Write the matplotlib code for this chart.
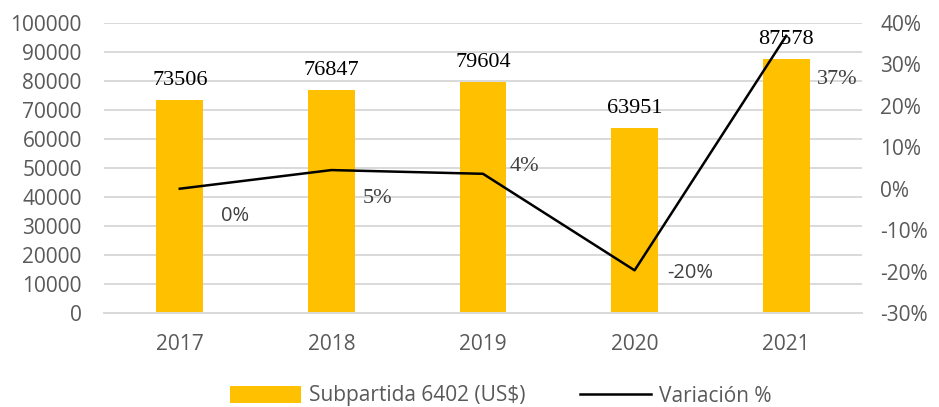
import matplotlib
matplotlib.use("Agg")
import matplotlib.pyplot as plt
from matplotlib.ticker import FuncFormatter

years = ["2017", "2018", "2019", "2020", "2021"]
imports_usd = [73506, 76847, 79604, 63951, 87578]
variation_pct = [0.0, 4.5, 3.6, -19.7, 36.9]
variation_labels = ["0%", "5%", "4%", "-20%", "37%"]

GOLD = "#FFC000"
GRAY = "#595959"
SANS = ["Open Sans", "DejaVu Sans"]
SERIF = ["Liberation Serif", "DejaVu Serif"]

plt.rcParams["font.family"] = SANS

fig = plt.figure(figsize=(9.39, 4.07), dpi=100)
ax = fig.add_axes([104 / 939, 1 - 313 / 407, 758 / 939, 290 / 407])
ax2 = ax.twinx()

x = list(range(len(years)))
bars = ax.bar(x, imports_usd, width=0.31, color=GOLD, zorder=2, label="Subpartida 6402 (US$)")
ax.set_xlim(-0.5, len(years) - 0.5)
ax.set_ylim(0, 100000)
ax.set_yticks(range(0, 100001, 10000))
ax.set_xticks(x)
ax.set_xticklabels(years)
ax.grid(axis="y", color="#D9D9D9", linewidth=1.4, zorder=0)
ax.set_axisbelow(True)

for b, v in zip(bars, imports_usd):
    ax.annotate(str(v), (b.get_x() + b.get_width() / 2, v), xytext=(0, 7),
                textcoords="offset points", ha="center", va="bottom",
                fontsize=16, family=SERIF, color="black")

line, = ax2.plot(x, variation_pct, color="black", linewidth=1.8, zorder=3, label="Variación %")
ax2.set_ylim(-30, 40)
ax2.set_yticks(range(-30, 41, 10))
ax2.yaxis.set_major_formatter(FuncFormatter(lambda v, p: f"{int(v)}%"))

# label offsets in pixels (dx, dy down) and font per label
offsets = [(55, 27), (46, 28), (41, -7), (56, 3), (51, 44)]
fonts = [SANS, SERIF, SERIF, SANS, SERIF]
sizes = [14.5, 16, 16, 14.5, 16]
for xi, v, lab, (dx, dy), fam, fs in zip(x, variation_pct, variation_labels, offsets, fonts, sizes):
    ax2.annotate(lab, (xi, v), xytext=(dx * 0.72, -dy * 0.72), textcoords="offset points",
                 ha="center", va="center", fontsize=fs, family=fam, color="#404040")

for a in (ax, ax2):
    for s in a.spines.values():
        s.set_visible(False)
    a.tick_params(length=0, labelsize=15, labelcolor=GRAY)
ax.spines["bottom"].set_visible(True)
ax.spines["bottom"].set_color("#D9D9D9")
ax.spines["bottom"].set_linewidth(1.4)
ax.tick_params(axis="y", pad=16)
ax.tick_params(axis="x", pad=15)
ax2.tick_params(axis="y", pad=13)

fig.legend(handles=[bars, line], labels=["Subpartida 6402 (US$)", "Variación %"],
           loc="center", bbox_to_anchor=(501 / 939, 1 - 396 / 407), ncol=2,
           frameon=False, fontsize=15, labelcolor=GRAY, handlelength=3.4,
           handleheight=0.9, columnspacing=2.6, handletextpad=0.4)

fig.savefig("out.png", dpi=100)
